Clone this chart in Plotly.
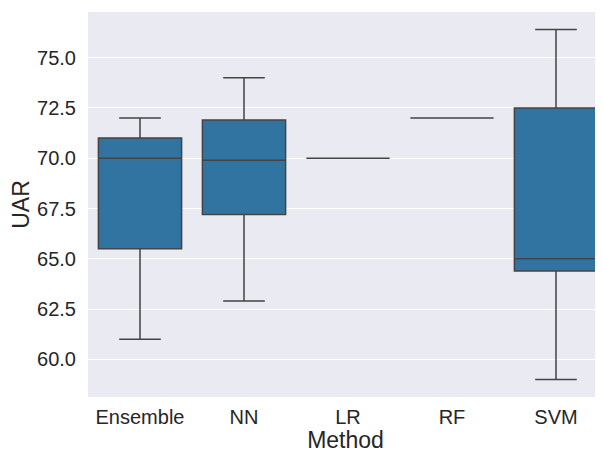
import plotly.graph_objects as go

methods = ["Ensemble", "NN", "LR", "RF", "SVM"]
lower = [61.0, 62.9, 70.0, 72.0, 59.0]
q1 = [65.5, 67.2, 70.0, 72.0, 64.4]
median = [70.0, 69.9, 70.0, 72.0, 65.0]
q3 = [71.0, 71.9, 70.0, 72.0, 72.5]
upper = [72.0, 74.0, 70.0, 72.0, 76.4]
yticks = [60.0, 62.5, 65.0, 67.5, 70.0, 72.5, 75.0]

fig = go.Figure()
fig.add_trace(go.Box(
    x=methods, q1=q1, median=median, q3=q3,
    lowerfence=lower, upperfence=upper,
    fillcolor="#3274a1",
    line=dict(color="#444444", width=1.5),
    width=0.8, whiskerwidth=0.5,
    boxpoints=False, showlegend=False,
))

FONT = "Arial, Liberation Sans, sans-serif"
fig.update_layout(
    width=595, height=445,
    margin=dict(l=80, r=0, t=4, b=56),
    paper_bgcolor="white",
    plot_bgcolor="#EAEAF2",
    font=dict(family=FONT, color="#262626"),
    xaxis=dict(
        title=dict(text="Method", font=dict(size=23), standoff=4),
        tickfont=dict(size=20), showgrid=False, zeroline=False,
        ticks="outside", ticklen=2, tickcolor="rgba(0,0,0,0)",
        range=[-0.5, 4.452], automargin=False,
    ),
    yaxis=dict(
        title=dict(text="UAR", font=dict(size=23), standoff=6),
        tickfont=dict(size=20), tickvals=yticks,
        ticktext=[f"{v:.1f}" for v in yticks],
        range=[58.13, 77.27], gridcolor="white", gridwidth=1.3,
        zeroline=False, automargin=False,
        ticks="outside", ticklen=7, tickcolor="rgba(0,0,0,0)",
    ),
)
fig.write_html("out.html")
